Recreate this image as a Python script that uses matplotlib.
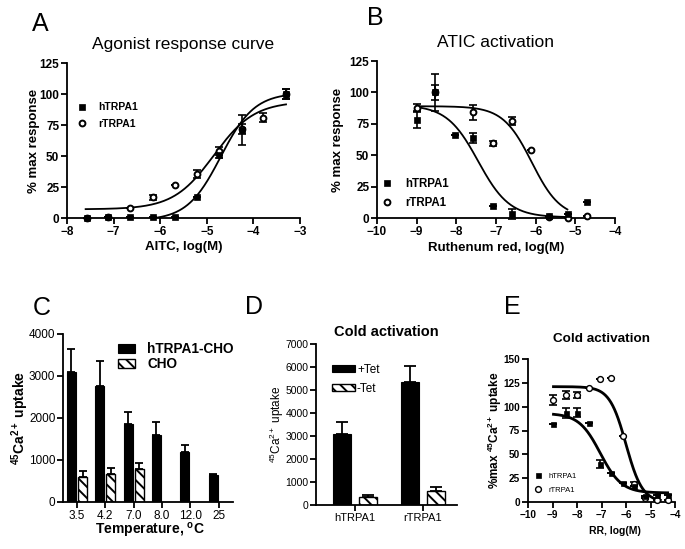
import numpy as np
import matplotlib.pyplot as plt

plt.rcParams['font.family'] = 'Liberation Sans'
plt.rcParams['mathtext.fontset'] = 'custom'
plt.rcParams['mathtext.rm'] = 'Liberation Sans'
plt.rcParams['mathtext.it'] = 'Liberation Sans:italic'
plt.rcParams['mathtext.bf'] = 'Liberation Sans:bold'
plt.rcParams['hatch.linewidth'] = 1.4

# ---- data ----
# A: agonist response (AITC)
a_x_h = [-7.57, -7.12, -6.64, -6.15, -5.69, -5.22, -4.73, -4.25, -3.31]
a_y_h = [0, 0.8, 0.5, 0.5, 0.8, 17.3, 50.7, 71, 100]
a_e_h = [0, 0, 0, 0, 0, 0, 2, 12, 4]
a_x_r = [-7.57, -7.12, -6.64, -6.15, -5.69, -5.22, -4.73, -4.25, -3.79, -3.31]
a_y_r = [0, 0.8, 7.8, 16.7, 27, 35.6, 54, 72, 81, 100]
a_e_r = [0, 0, 0, 2, 0, 3, 3.5, 4, 3.5, 4]
a_fit_h = [101, -2, -4.7, 1.2]      # top, bottom, logEC50, slope
a_fit_r = [94, 7, -4.85, 1.0]

# B: ruthenium red block of ATIC activation
b_x_h = [-9, -8.54, -8.03, -7.57, -7.08, -6.6, -5.66, -5.18, -4.71]
b_y_h = [78.4, 100, 65.8, 63.7, 9.2, 3.2, 1.3, 3.4, 12.6]
b_e_h = [7, 15, 0, 4, 0, 4, 0, 0, 0]
b_x_r = [-9, -8.54, -7.57, -7.08, -6.6, -6.13, -5.66, -5.18, -4.71]
b_y_r = [87.4, 100, 84.2, 59.7, 77.1, 54, 0.8, 0, 1.8]
b_e_r = [3, 6, 6, 2, 3, 0, 0, 0, 0]
b_fit_h = [90, 0.5, -7.45, -1.1]
b_fit_r = [89, 0, -6.1, -1.2]

# C: cold activation vs temperature
c_temps = ['3.5', '4.2', '7.0', '8.0', '12.0', '25']
c_trpa1 = [3095, 2770, 1857, 1603, 1183, 651]
c_trpa1_err = [556, 579, 286, 294, 182, 16]
c_cho = [595, 667, 794]
c_cho_err = [143, 150, 143]

# D: cold activation, +/- tetracycline
d_groups = ['hTRPA1', 'rTRPA1']
d_plus = [3072, 5362]
d_plus_err = [522, 681]
d_minus = [333, 623]
d_minus_err = [102, 145]

# E: ruthenium red block of cold activation
e_x = [-8.96, -8.46, -8.01, -7.53, -7.07, -6.62, -6.14, -5.69, -5.22, -4.73, -4.30]
e_y_h = [81.5, 93.4, 93.7, 82.5, 39.9, 30, 20.3, 17, 6.6, 7.3, 7.3]
e_e_h = [0, 5, 5, 0, 4, 0, 0, 0, 0, 0, 0]
e_y_r = [107, 112, 112, 120, 129, 130, 69, 18.5, 4.5, 2, 2]
e_e_r = [5, 4, 3, 0, 0, 0, 0, 2, 0, 0, 0]
e_fit_h = [93, 9.5, -7.05, -1.0]
e_fit_r = [121, 0, -6.0, -1.3]


def hill(x, top, bottom, mid, slope):
    return bottom + (top - bottom) / (1 + 10 ** ((mid - x) * slope))


W, H = 685, 549
fig = plt.figure(figsize=(W / 100, H / 100), dpi=100)


def panel(l, t, r, b):
    return fig.add_axes([l / W, 1 - b / H, (r - l) / W, (b - t) / H])


def style(ax, size, bold):
    for s in ['top', 'right']:
        ax.spines[s].set_visible(False)
    for s in ['left', 'bottom']:
        ax.spines[s].set_linewidth(1.3)
    ax.tick_params(direction='out', length=4, width=1.3, labelsize=size, pad=1.5)
    if bold:
        for lbl in ax.get_xticklabels() + ax.get_yticklabels():
            lbl.set_fontweight('bold')


def curve_panel(ax, xh, yh, eh, xr, yr, er, fh, fr, xfit_h, xfit_r, ms_sq, ms_c, mew_c, lw_fit):
    xs = np.linspace(xfit_h[0], xfit_h[1], 300)
    ax.plot(xs, hill(xs, *fh), color='k', lw=lw_fit, zorder=2)
    xs = np.linspace(xfit_r[0], xfit_r[1], 300)
    ax.plot(xs, hill(xs, *fr), color='k', lw=lw_fit, zorder=2)
    ax.errorbar(xr, yr, yerr=er, fmt='none', ecolor='k', elinewidth=1.2,
                capsize=3, capthick=1.2, zorder=2.5, clip_on=False)
    ax.errorbar(xh, yh, yerr=eh, fmt='none', ecolor='k', elinewidth=1.2,
                capsize=3, capthick=1.2, zorder=2.5, clip_on=False)
    c, = ax.plot(xr, yr, 'o', ms=ms_c, mfc='white', mec='k', mew=mew_c,
                 ls='none', zorder=3, clip_on=False, label='rTRPA1')
    s, = ax.plot(xh, yh, 's', ms=ms_sq, mfc='k', mec='k', mew=0.5,
                 ls='none', zorder=4, clip_on=False, label='hTRPA1')
    return s, c


# ---------------- A ----------------
axA = panel(67, 63, 300, 218)
s, c = curve_panel(axA, a_x_h, a_y_h, a_e_h, a_x_r, a_y_r, a_e_r,
                   a_fit_h, a_fit_r, (-7.6, -3.3), (-7.6, -3.3), 4.3, 4.2, 1.4, 1.3)
axA.set_xlim(-8, -3)
axA.set_ylim(0, 125)
axA.set_xticks(range(-8, -2))
axA.set_yticks(range(0, 126, 25))
style(axA, 8.5, True)
axA.set_ylabel('% max response', fontsize=9.5, fontweight='bold')
axA.yaxis.set_label_coords(-0.115, 0.5)
axA.set_xlabel('AITC, log(M)', fontsize=9.5, fontweight='bold')
axA.xaxis.set_label_coords(0.5, -0.15)
axA.set_title('Agonist response curve', fontsize=12.5, pad=10)
axA.legend([s, c], ['hTRPA1', 'rTRPA1'], loc='center left', bbox_to_anchor=(0.043, 0.66),
           frameon=False, prop={'weight': 'bold', 'size': 7.5},
           handlelength=1, handletextpad=1.0, labelspacing=0.65,
           borderpad=0, borderaxespad=0, numpoints=1)
fig.text(40 / W, 1 - 24 / H, 'A', fontsize=18, ha='center', va='center')

# ---------------- B ----------------
axB = panel(377, 61, 615, 218)
s, c = curve_panel(axB, b_x_h, b_y_h, b_e_h, b_x_r, b_y_r, b_e_r,
                   b_fit_h, b_fit_r, (-9, -5.25), (-9, -5.2), 4.3, 4.2, 1.4, 1.3)
axB.set_xlim(-10, -4)
axB.set_ylim(0, 125)
axB.set_xticks(range(-10, -3))
axB.set_yticks(range(0, 126, 25))
style(axB, 8.5, True)
axB.set_ylabel('% max response', fontsize=9.5, fontweight='bold')
axB.yaxis.set_label_coords(-0.14, 0.5)
axB.set_xlabel('Ruthenum red, log(M)', fontsize=9.5, fontweight='bold')
axB.xaxis.set_label_coords(0.5, -0.15)
axB.set_title('ATIC activation', fontsize=12.5, pad=10)
axB.legend([s, c], ['hTRPA1', 'rTRPA1'], loc='center left', bbox_to_anchor=(0.018, 0.156),
           frameon=False, prop={'weight': 'bold', 'size': 8.3},
           handlelength=1, handletextpad=1.05, labelspacing=0.64,
           borderpad=0, borderaxespad=0, numpoints=1)
fig.text(375 / W, 1 - 18 / H, 'B', fontsize=18, ha='center', va='center')

# ---------------- C ----------------
axC = panel(63, 334, 233, 502)
xc = np.arange(len(c_temps))
wc = 0.32
off = 0.195
b1 = axC.bar(xc - off, c_trpa1, wc, color='k', edgecolor='k', lw=0.8, zorder=2)
b2 = axC.bar(xc[:len(c_cho)] + off, c_cho, wc, color='white', edgecolor='k',
             hatch='\\\\\\', lw=1.0, zorder=2)
axC.errorbar(xc - off, c_trpa1, yerr=[np.zeros(len(c_trpa1)), c_trpa1_err], fmt='none',
             ecolor='k', elinewidth=1.3, capsize=3, capthick=1.3, zorder=1)
axC.errorbar(xc[:len(c_cho)] + off, c_cho, yerr=[np.zeros(len(c_cho)), c_cho_err],
             fmt='none', ecolor='k', elinewidth=1.3, capsize=3, capthick=1.3, zorder=1)
axC.set_xlim(-0.495, 5.51)
axC.set_ylim(0, 4000)
axC.set_yticks(range(0, 4001, 1000))
axC.set_xticks(xc)
axC.set_xticklabels(c_temps)
style(axC, 8.5, False)
axC.set_ylabel(r'$\mathbf{^{45}Ca^{2+}}$ uptake', fontsize=10, fontweight='bold')
axC.yaxis.set_label_coords(-0.19, 0.5)
axC.set_xlabel(r'Temperature, $\mathbf{^{o}}$C', fontsize=10, fontweight='bold')
axC.xaxis.set_label_coords(0.51, -0.115)
axC.legend([b1, b2], ['hTRPA1-CHO', 'CHO'], loc='center left', bbox_to_anchor=(0.324, 0.866),
           frameon=False, prop={'weight': 'bold', 'size': 9.8},
           handlelength=1.25, handleheight=0.65, handletextpad=0.9, labelspacing=0.05,
           borderpad=0, borderaxespad=0)
fig.text(42 / W, 1 - 308 / H, 'C', fontsize=18, ha='center', va='center')

# ---------------- D ----------------
axD = panel(316, 344, 457, 505)
xd = np.arange(len(d_groups))
wd = 0.265
offd = 0.1875
d1 = axD.bar(xd - offd, d_plus, wd, color='k', edgecolor='k', lw=0.8, zorder=2)
d2 = axD.bar(xd + offd, d_minus, wd, color='white', edgecolor='k', hatch='\\\\\\',
             lw=1.0, zorder=2)
axD.errorbar(xd - offd, d_plus, yerr=[np.zeros(2), d_plus_err], fmt='none', ecolor='k',
             elinewidth=1.3, capsize=4, capthick=1.3, zorder=1)
axD.errorbar(xd + offd, d_minus, yerr=[np.zeros(2), d_minus_err], fmt='none', ecolor='k',
             elinewidth=1.3, capsize=4, capthick=1.3, zorder=1)
axD.set_xlim(-0.57, 1.5)
axD.set_ylim(0, 7000)
axD.set_yticks(range(0, 7001, 1000))
axD.set_xticks(xd)
axD.set_xticklabels(d_groups)
style(axD, 7.5, False)
axD.tick_params(axis='x', labelsize=8)
axD.set_ylabel(r'$^{45}$Ca$^{2+}$ uptake', fontsize=8.5)
axD.yaxis.set_label_coords(-0.215, 0.5)
axD.set_title('Cold activation', fontsize=10.5, fontweight='bold', pad=6)
axD.legend([d1, d2], ['+Tet', '-Tet'], loc='center left', bbox_to_anchor=(0.113, 0.78),
           frameon=False, fontsize=8.5, handlelength=1.95, handleheight=0.5,
           handletextpad=0.17, labelspacing=0.6, borderpad=0, borderaxespad=0)
fig.text(254 / W, 1 - 307 / H, 'D', fontsize=18, ha='center', va='center')

# ---------------- E ----------------
axE = panel(528, 359, 675, 502)
s, c = curve_panel(axE, e_x, e_y_h, e_e_h, e_x, e_y_r, e_e_r,
                   e_fit_h, e_fit_r, (-8.96, -4.3), (-8.96, -4.6), 3.6, 4.2, 1.0, 2.0)
axE.set_xlim(-10, -4)
axE.set_ylim(0, 150)
axE.set_xticks(range(-10, -3))
axE.set_yticks(range(0, 151, 25))
style(axE, 7.2, True)
axE.set_ylabel(r'%max $\mathbf{^{45}}$Ca$\mathbf{^{2+}}$ uptake', fontsize=8.5, fontweight='bold')
axE.yaxis.set_label_coords(-0.165, 0.5)
axE.set_xlabel('RR, log(M)', fontsize=7.5, fontweight='bold')
axE.xaxis.set_label_coords(0.59, -0.17)
axE.set_title('Cold activation', fontsize=9.7, fontweight='bold', pad=12)
axE.legend([s, c], ['hTRPA1', 'rTRPA1'], loc='center left', bbox_to_anchor=(0.04, 0.133),
           frameon=False, fontsize=5.5, handlelength=1, handletextpad=0.95,
           labelspacing=0.9, borderpad=0, borderaxespad=0, numpoints=1)
fig.text(512 / W, 1 - 307 / H, 'E', fontsize=18, ha='center', va='center')

fig.savefig('out.png', dpi=100)
